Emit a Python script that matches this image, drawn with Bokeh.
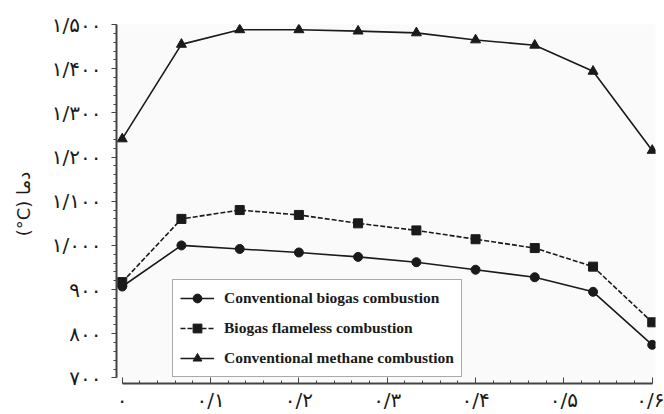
from bokeh.plotting import figure
from bokeh.models import Legend, LegendItem, FixedTicker, Range1d
from bokeh.embed import file_html
from bokeh.resources import INLINE

# ---- data ----
x_vals = [0.0, 0.067, 0.133, 0.2, 0.267, 0.333, 0.4, 0.467, 0.533, 0.6]
biogas_conv = [907, 1000, 992, 984, 974, 962, 945, 928, 895, 775]
biogas_flameless = [917, 1060, 1080, 1069, 1050, 1034, 1014, 994, 952, 826]
methane_conv = [1241, 1455, 1488, 1488, 1485, 1481, 1465, 1453, 1394, 1215]

series_names = ["Conventional biogas combustion",
                "Biogas flameless combustion",
                "Conventional methane combustion"]

x_ticks = [0, 0.1, 0.2, 0.3, 0.4, 0.5, 0.6]
x_tick_labels = ["۰", "۰/۱", "۰/۲", "۰/۳", "۰/۴", "۰/۵", "۰/۶"]
y_ticks = [700, 800, 900, 1000, 1100, 1200, 1300, 1400, 1500]
y_tick_labels = ["۷۰۰", "۸۰۰", "۹۰۰", "۱/۰۰۰", "۱/۱۰۰", "۱/۲۰۰", "۱/۳۰۰", "۱/۴۰۰", "۱/۵۰۰"]
y_title = "(°C) دما"

INK = "#1a1a1a"

p = figure(width=664, height=414, output_backend="svg", toolbar_location=None,
           x_range=Range1d(-0.0065, 0.6037), y_range=Range1d(687.5, 1500),
           min_border_left=116, min_border_right=9, min_border_top=24, min_border_bottom=29)
p.background_fill_color = "#fafafa"
p.border_fill_color = "white"
p.outline_line_color = None
p.xgrid.grid_line_color = None
p.ygrid.grid_line_color = None

# axes
xa = p.xaxis[0]
xa.ticker = FixedTicker(ticks=x_ticks, minor_ticks=[i * 0.02 for i in range(31)])
xa.major_label_overrides = {t: l for t, l in zip(x_ticks, x_tick_labels)}
xa.bounds = (0, 0.6)
xa.major_tick_in = 6
xa.major_tick_out = 0
xa.minor_tick_in = 3
xa.minor_tick_out = 0
xa.axis_line_width = 2
xa.axis_line_color = "#444444"
xa.major_tick_line_color = "#444444"
xa.minor_tick_line_color = "#444444"
xa.major_label_text_font = "DejaVu Sans"
xa.major_label_text_font_size = "20px"
xa.major_label_text_color = INK
xa.major_label_standoff = 4

ya = p.yaxis[0]
ya.ticker = FixedTicker(ticks=y_ticks, minor_ticks=list(range(700, 1501, 20)))
ya.major_label_overrides = {t: l for t, l in zip(y_ticks, y_tick_labels)}
ya.bounds = (700, 1500)
ya.major_tick_in = 0
ya.major_tick_out = 5
ya.minor_tick_in = 0
ya.minor_tick_out = 3
ya.axis_line_width = 2
ya.axis_line_color = "#444444"
ya.major_tick_line_color = "#444444"
ya.minor_tick_line_color = "#444444"
ya.major_label_text_font = "DejaVu Sans"
ya.major_label_text_font_size = "20px"
ya.major_label_text_color = INK
ya.major_label_standoff = 10
ya.axis_label = y_title
ya.axis_label_text_font = "DejaVu Sans"
ya.axis_label_text_font_size = "18px"
ya.axis_label_text_font_style = "normal"
ya.axis_label_text_color = INK
ya.axis_label_standoff = 15

# series
l1 = p.line(x_vals, biogas_conv, line_color=INK, line_width=1.6)
m1 = p.scatter(x_vals, biogas_conv, marker="circle", size=9, fill_color=INK, line_color=INK)
l2 = p.line(x_vals, biogas_flameless, line_color=INK, line_width=1.6, line_dash="5 2")
m2 = p.scatter(x_vals, biogas_flameless, marker="square", size=9, fill_color=INK, line_color=INK)
l3 = p.line(x_vals, methane_conv, line_color=INK, line_width=1.6)
m3 = p.scatter(x_vals, methane_conv, marker="triangle", size=10, fill_color=INK, line_color=INK)

legend = Legend(items=[
    LegendItem(label=series_names[0], renderers=[l1, m1]),
    LegendItem(label=series_names[1], renderers=[l2, m2]),
    LegendItem(label=series_names[2], renderers=[l3, m3]),
], location=(56, 6))
legend.label_text_font = "Liberation Serif"
legend.label_text_font_style = "bold"
legend.label_text_font_size = "15.5px"
legend.label_text_color = INK
legend.glyph_width = 34
legend.glyph_height = 22
legend.label_height = 22
legend.spacing = 8
legend.padding = 7
legend.margin = 0
legend.label_standoff = 10
legend.border_line_color = "#555555"
legend.border_line_width = 1.5
legend.background_fill_color = "white"
legend.background_fill_alpha = 1
p.add_layout(legend)

open("out.html", "w").write(file_html(p, INLINE))
